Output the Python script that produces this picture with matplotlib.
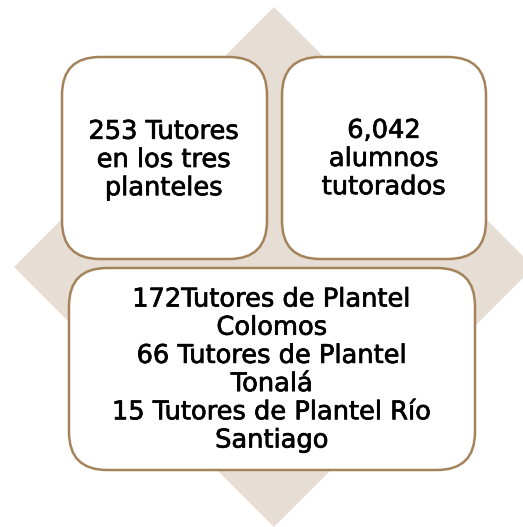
import matplotlib
matplotlib.use('Agg')
import matplotlib.pyplot as plt
import matplotlib.patheffects as pe
from matplotlib.patches import Polygon, FancyBboxPatch

# texts of the three boxes
labels = ['253 Tutores\nen los tres\nplanteles',
          '6,042\nalumnos\ntutorados',
          '172Tutores de Plantel\nColomos\n66 Tutores de Plantel\nTonalá\n15 Tutores de Plantel Río\nSantiago']
# box extents in pixels: x0, y0, x1, y1
boxes = [(62, 57, 267, 259), (282, 57, 486, 259), (69, 268, 475, 470)]
text_pos = [(164, 160), (384, 159), (272, 370)]

W, H = 523, 527
fig = plt.figure(figsize=(W / 100, H / 100), dpi=100)
ax = fig.add_axes([0, 0, 1, 1])
ax.set_xlim(0, W)
ax.set_ylim(H, 0)
ax.axis('off')

# diamond in the back
cx, cy, r = 274, 267, 260
ax.add_patch(Polygon([(cx, cy - r), (cx + r, cy), (cx, cy + r), (cx - r, cy)],
                     closed=True, facecolor='#e6ddd4', edgecolor='none'))

for (x0, y0, x1, y1), txt, (tx, ty) in zip(boxes, labels, text_pos):
    pad = 38
    ax.add_patch(FancyBboxPatch((x0 + pad, y0 + pad), x1 - x0 - 2 * pad, y1 - y0 - 2 * pad,
                                boxstyle='round,pad=%d,rounding_size=%d' % (pad, pad),
                                facecolor='white', edgecolor='#a5835a', linewidth=1.8))
    ax.text(tx, ty, txt, ha='center', va='center', fontsize=18.5,
            family='DejaVu Sans', linespacing=1.11, color='black',
            path_effects=[pe.withStroke(linewidth=0.5, foreground='black')])

fig.savefig('out.png', dpi=100)
